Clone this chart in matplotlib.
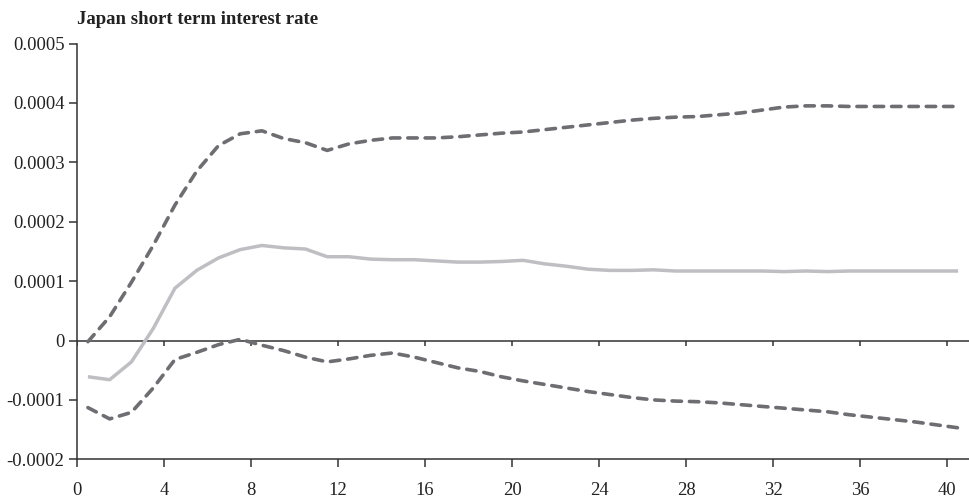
import numpy as np
import matplotlib
matplotlib.use("Agg")
import matplotlib.pyplot as plt

periods = np.arange(41)

central = [-0.000061, -0.000066, -0.000036, 0.000020, 0.000088, 0.000118, 0.000139,
           0.000153, 0.000160, 0.000156, 0.000154, 0.000141, 0.000141, 0.000137,
           0.000136, 0.000136, 0.000134, 0.000132, 0.000132, 0.000133, 0.000135,
           0.000129, 0.000125, 0.000120, 0.000118, 0.000118, 0.000119, 0.000117,
           0.000117, 0.000117, 0.000117, 0.000117, 0.000116, 0.000117, 0.000116,
           0.000117, 0.000117, 0.000117, 0.000117, 0.000117, 0.000117]

upper = [-0.000002, 0.000040, 0.000098, 0.000160, 0.000228, 0.000285, 0.000328,
         0.000348, 0.000353, 0.000340, 0.000333, 0.000320, 0.000331, 0.000337,
         0.000341, 0.000341, 0.000341, 0.000343, 0.000346, 0.000349, 0.000351,
         0.000355, 0.000359, 0.000363, 0.000367, 0.000371, 0.000374, 0.000376,
         0.000377, 0.000380, 0.000383, 0.000388, 0.000393, 0.000395, 0.000395,
         0.000394, 0.000394, 0.000394, 0.000394, 0.000394, 0.000394]

lower = [-0.000113, -0.000132, -0.000121, -0.000080, -0.000032, -0.000020, -0.000007,
         0.000002, -0.000008, -0.000017, -0.000028, -0.000036, -0.000031, -0.000025,
         -0.000021, -0.000028, -0.000037, -0.000046, -0.000052, -0.000061, -0.000068,
         -0.000074, -0.000080, -0.000086, -0.000091, -0.000096, -0.000100, -0.000102,
         -0.000103, -0.000105, -0.000108, -0.000111, -0.000114, -0.000117, -0.000120,
         -0.000125, -0.000129, -0.000133, -0.000137, -0.000142, -0.000147]

xticks = [0, 4, 8, 12, 16, 20, 24, 28, 32, 36, 40]
yticks = [-0.0002, -0.0001, 0, 0.0001, 0.0002, 0.0003, 0.0004, 0.0005]
ylabels = ["-0.0002", "-0.0001", "0", "0.0001", "0.0002", "0.0003", "0.0004", "0.0005"]
title = "Japan short term interest rate"

plt.rcParams['font.family'] = ['Liberation Serif', 'DejaVu Serif']

fig = plt.figure(figsize=(9.69, 5.0), dpi=100)
ax = fig.add_axes([0.0795, 0.0814, 0.9205, 0.8316])

x = periods + 0.5
dash_col = "#6d6d72"
ax.plot(x, central, color="#bfbfc3", lw=2.5, solid_capstyle="butt", zorder=3)
for s in (upper, lower):
    ax.plot(x, s, color=dash_col, lw=2.6, dashes=(2.6, 2.2),
            dash_capstyle="round", zorder=4)

ax.set_xlim(0, 41)
ax.set_ylim(-0.0002, 0.0005)
ax.set_xticks(xticks)
ax.set_xticklabels([str(t) for t in xticks])
ax.set_yticks(yticks)
ax.set_yticklabels(ylabels)

spine_col = "#333333"
for k in ("top", "right"):
    ax.spines[k].set_visible(False)
for k in ("left", "bottom"):
    ax.spines[k].set_color(spine_col)
    ax.spines[k].set_linewidth(1.1)

ax.tick_params(axis="both", direction="out", length=6, width=1.1, color=spine_col,
               labelsize=13.4, labelcolor="#222222", pad=3)
ax.tick_params(axis="x", pad=10)

# zero line with downward ticks
ax.axhline(0, color=spine_col, lw=1.1, zorder=2)
yr = 0.0007
for t in xticks:
    ax.plot([t, t], [0, -yr * 6 / 416], color=spine_col, lw=1.1, zorder=2,
            solid_capstyle="butt")

fig.text(0.0795, 0.945, title, fontsize=13.5, fontweight="bold", color="#222222",
         ha="left", va="bottom")

fig.savefig("out.png", dpi=100)
